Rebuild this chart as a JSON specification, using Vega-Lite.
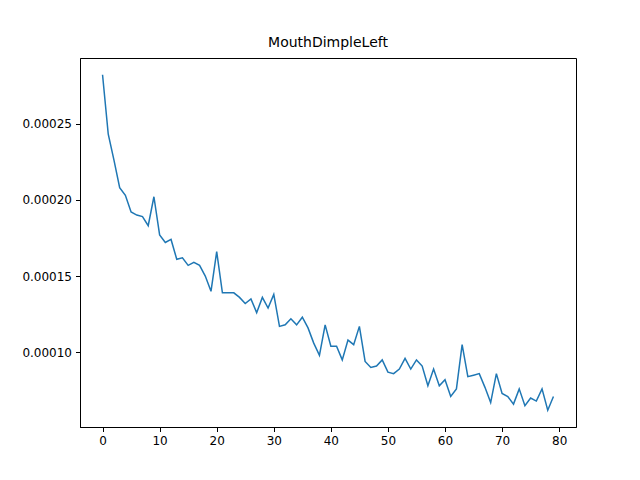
{
  "$schema": "https://vega.github.io/schema/vega-lite/v6.json",
  "autosize": "none",
  "padding": {"left": 80, "top": 58, "right": 64, "bottom": 53},
  "width": 496,
  "height": 369,
  "background": "white",
  "title": {"text": "MouthDimpleLeft", "fontSize": 14, "fontWeight": "normal", "font": "DejaVu Sans", "color": "black", "offset": 8},
  "data": {
    "values": [
      {"step": 0, "value": 0.000282}, {"step": 1, "value": 0.000243}, {"step": 2, "value": 0.000226}, {"step": 3, "value": 0.000208},
      {"step": 4, "value": 0.000203}, {"step": 5, "value": 0.000192}, {"step": 6, "value": 0.00019}, {"step": 7, "value": 0.000189},
      {"step": 8, "value": 0.000183}, {"step": 9, "value": 0.000202}, {"step": 10, "value": 0.000177}, {"step": 11, "value": 0.000172},
      {"step": 12, "value": 0.000174}, {"step": 13, "value": 0.000161}, {"step": 14, "value": 0.000162}, {"step": 15, "value": 0.000157},
      {"step": 16, "value": 0.000159}, {"step": 17, "value": 0.000157}, {"step": 18, "value": 0.00015}, {"step": 19, "value": 0.00014},
      {"step": 20, "value": 0.000166}, {"step": 21, "value": 0.000139}, {"step": 22, "value": 0.000139}, {"step": 23, "value": 0.000139},
      {"step": 24, "value": 0.000136}, {"step": 25, "value": 0.000132}, {"step": 26, "value": 0.000135}, {"step": 27, "value": 0.000126},
      {"step": 28, "value": 0.000136}, {"step": 29, "value": 0.000129}, {"step": 30, "value": 0.000138}, {"step": 31, "value": 0.000117},
      {"step": 32, "value": 0.000118}, {"step": 33, "value": 0.000122}, {"step": 34, "value": 0.000118}, {"step": 35, "value": 0.000123},
      {"step": 36, "value": 0.000116}, {"step": 37, "value": 0.000106}, {"step": 38, "value": 0.000098}, {"step": 39, "value": 0.000118},
      {"step": 40, "value": 0.000104}, {"step": 41, "value": 0.000104}, {"step": 42, "value": 0.000095}, {"step": 43, "value": 0.000108},
      {"step": 44, "value": 0.000105}, {"step": 45, "value": 0.000117}, {"step": 46, "value": 0.000094}, {"step": 47, "value": 0.00009},
      {"step": 48, "value": 0.000091}, {"step": 49, "value": 0.000095}, {"step": 50, "value": 0.000087}, {"step": 51, "value": 0.000086},
      {"step": 52, "value": 0.000089}, {"step": 53, "value": 0.000096}, {"step": 54, "value": 0.000089}, {"step": 55, "value": 0.000095},
      {"step": 56, "value": 0.000091}, {"step": 57, "value": 0.000078}, {"step": 58, "value": 0.000089}, {"step": 59, "value": 0.000078},
      {"step": 60, "value": 0.000082}, {"step": 61, "value": 0.000071}, {"step": 62, "value": 0.000076}, {"step": 63, "value": 0.000105},
      {"step": 64, "value": 0.000084}, {"step": 65, "value": 0.000085}, {"step": 66, "value": 0.000086}, {"step": 67, "value": 0.000077},
      {"step": 68, "value": 0.000067}, {"step": 69, "value": 0.000086}, {"step": 70, "value": 0.000073}, {"step": 71, "value": 0.000071},
      {"step": 72, "value": 0.000066}, {"step": 73, "value": 0.000076}, {"step": 74, "value": 0.000065}, {"step": 75, "value": 0.00007},
      {"step": 76, "value": 0.000068}, {"step": 77, "value": 0.000076}, {"step": 78, "value": 0.000062}, {"step": 79, "value": 0.000071}
    ]
  },
  "mark": {"type": "line", "color": "#1f77b4", "strokeWidth": 1.5},
  "encoding": {
    "x": {
      "field": "step", "type": "quantitative",
      "scale": {"domain": [-3.95, 82.95], "nice": false, "zero": false},
      "axis": {"title": null, "values": [0, 10, 20, 30, 40, 50, 60, 70, 80], "grid": false}
    },
    "y": {
      "field": "value", "type": "quantitative",
      "scale": {"domain": [0.000051, 0.000293], "nice": false, "zero": false},
      "axis": {"title": null, "values": [0.0001, 0.00015, 0.0002, 0.00025], "format": ".5f", "grid": false}
    }
  },
  "config": {
    "view": {"stroke": "black", "strokeWidth": 1},
    "axis": {
      "domainColor": "black", "tickColor": "black", "labelColor": "black",
      "labelFont": "DejaVu Sans", "labelFontSize": 12, "tickSize": 4.5, "labelPadding": 4
    }
  }
}
